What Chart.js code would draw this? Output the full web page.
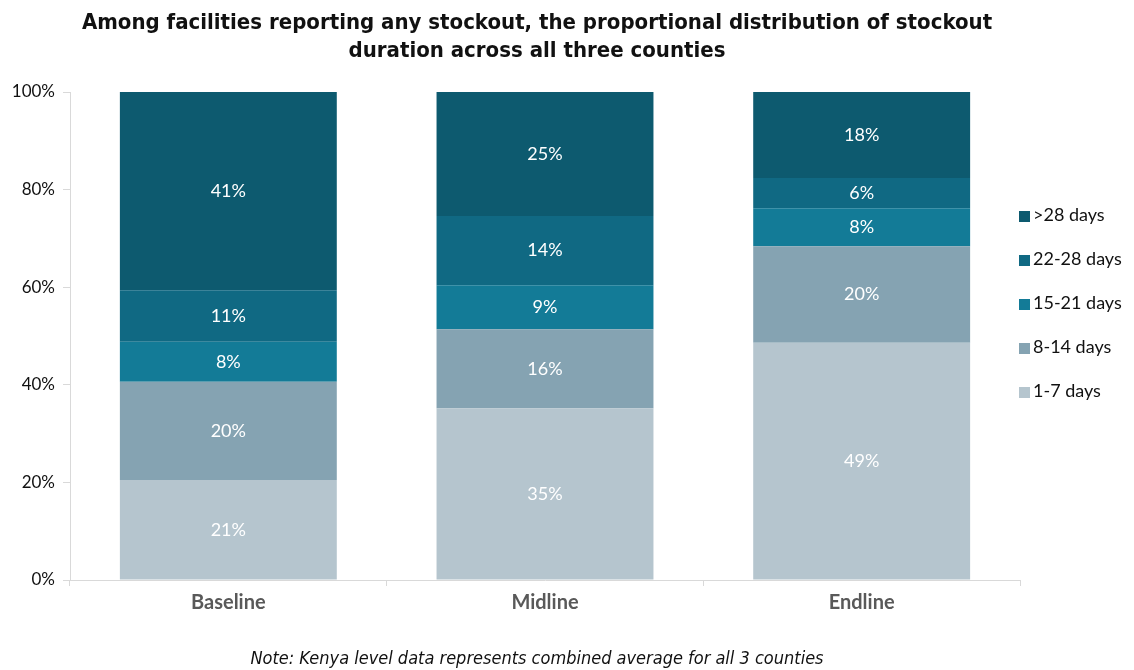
<!DOCTYPE html>
<html>
<head>
<meta charset="utf-8">
<script src="https://cdn.jsdelivr.net/npm/chart.js@4"></script>
<style>
    body { margin: 0; background: #fff; font-family: Lato, "Open Sans", sans-serif; }
    #wrap { position: relative; width: 1134px; height: 670px; }
    #titulo {
        position: absolute; left: 0; top: 8px; width: 1074px;
        text-align: center; font-family: "DejaVu Sans Condensed", sans-serif; font-weight: bold;
        font-size: 22px; line-height: 28px; color: #111;
    }
    #legenda { position: absolute; left: 1019px; top: 192px; font-size: 18px; color: #111; }
    #legenda div { height: 44px; line-height: 44px; white-space: nowrap; }
    #legenda span { display: inline-block; width: 11px; height: 11px; margin-right: 3px; vertical-align: -1px; }
    #nota {
        position: absolute; left: 0; top: 647px; width: 1074px;
        text-align: center; font-family: "DejaVu Sans Condensed", sans-serif; font-style: italic;
        font-size: 18px; color: #111;
    }
    canvas { position: absolute; left: 0; top: 0; }
</style>
</head>
<body>
<div id="wrap">
    <canvas id="grafico" width="1134" height="670"></canvas>
    <div id="titulo">Among facilities reporting any stockout, the proportional distribution of stockout<br>duration across all three counties</div>
    <div id="legenda"></div>
    <div id="nota">Note: Kenya level data represents combined average for all 3 counties</div>
</div>
<script>
// ── Dados ──
const categorias = ["Baseline", "Midline", "Endline"];
const faixas     = ["1-7 days", "8-14 days", "15-21 days", "22-28 days", ">28 days"];
const cores      = ["#b5c5ce", "#85a3b2", "#137b97", "#106983", "#0d5a6f"];

const dias1a7   = [20.5, 35.2, 48.6];
const dias8a14  = [20.1, 16.2, 19.8];
const dias15a21 = [8.2, 9.0, 7.8];
const dias22a28 = [10.6, 14.2, 6.2];
const mais28    = [40.6, 25.4, 17.6];

const valores = [dias1a7, dias8a14, dias15a21, dias22a28, mais28];
const ticksY  = [0, 20, 40, 60, 80, 100];

// ── Rótulos dentro das barras ──
const rotulosBarras = {
    id: "rotulosBarras",
    afterDatasetsDraw(chart) {
        const ctx = chart.ctx;
        ctx.save();
        ctx.fillStyle = "#ffffff";
        ctx.font = "18px Lato, 'Open Sans', sans-serif";
        ctx.textAlign = "center";
        ctx.textBaseline = "middle";
        chart.data.datasets.forEach((ds, i) => {
            chart.getDatasetMeta(i).data.forEach((bar, j) => {
                const meio = (bar.y + bar.base) / 2;
                ctx.fillText(Math.round(ds.data[j]) + "%", bar.x, meio);
            });
        });
        ctx.restore();
    }
};

new Chart(document.getElementById("grafico"), {
    type: "bar",
    data: {
        labels: categorias,
        datasets: faixas.map((f, i) => ({
            label: f,
            data: valores[i],
            backgroundColor: cores[i],
            borderWidth: 0,
            categoryPercentage: 1,
            barPercentage: 0.685,
        }))
    },
    options: {
        responsive: false,
        animation: false,
        layout: { padding: { top: 92, left: 0, right: 114, bottom: 40 } },
        plugins: {
            legend: { display: false },
            tooltip: { enabled: false },
        },
        scales: {
            x: {
                stacked: true,
                grid: { drawOnChartArea: false, tickLength: 6, color: "#d9d9d9" },
                border: { color: "#d9d9d9" },
                ticks: { color: "#595959", font: { family: "Lato", size: 20, weight: "bold" }, padding: 5 },
                afterFit: s => { s.height = 50; },
            },
            y: {
                stacked: true,
                min: 0, max: 100,
                afterBuildTicks: s => { s.ticks = ticksY.map(v => ({ value: v })); },
                grid: { drawOnChartArea: false, tickLength: 7, color: "#d9d9d9" },
                border: { color: "#d9d9d9" },
                ticks: { color: "#111", font: { family: "Lato", size: 17 }, padding: 8, callback: v => v + "%" },
                afterFit: s => { s.width = 70; },
            }
        }
    },
    plugins: [rotulosBarras]
});

// ── Legenda ──
const legenda = document.getElementById("legenda");
faixas.slice().reverse().forEach((f, k) => {
    const i = faixas.length - 1 - k;
    const d = document.createElement("div");
    d.innerHTML = `<span style="background:${cores[i]}"></span>${f}`;
    legenda.appendChild(d);
});
</script>
</body>
</html>
